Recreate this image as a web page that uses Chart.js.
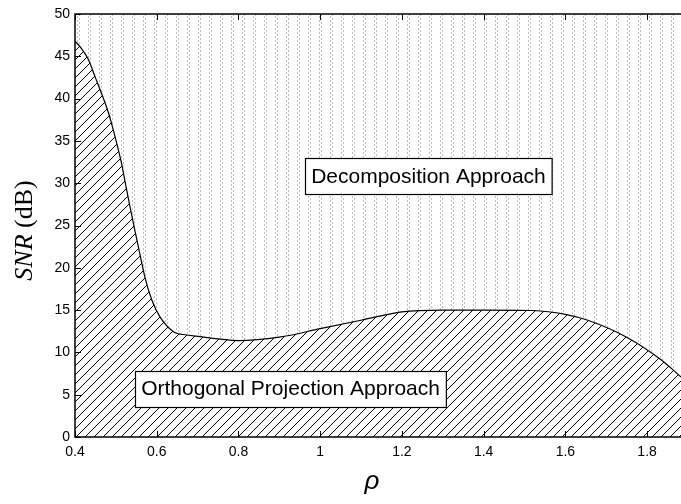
<!DOCTYPE html>
<html>
<head>
<meta charset="utf-8">
<script src="https://cdn.jsdelivr.net/npm/chart.js@4.4.0/dist/chart.umd.min.js"></script>
<style>
  html, body { margin: 0; padding: 0; background: #fff; }
  canvas { display: block; }
</style>
</head>
<body>
<canvas id="snr-chart" width="681" height="504"></canvas>
<script>
// boundary between the two regions
const rhoVals = [0.4, 0.416, 0.433, 0.449, 0.465, 0.482, 0.498, 0.514, 0.524, 0.535, 0.547, 0.559,
                 0.571, 0.588, 0.608, 0.641, 0.673, 0.706, 0.75, 0.8, 0.9, 1.0, 1.1, 1.2,
                 1.3, 1.4, 1.52, 1.6, 1.655, 1.75, 1.835, 1.883];
const snrVals = [46.8, 45.9, 44.6, 42.6, 40.6, 38.3, 35.5, 32.3, 29.8, 27.1, 24.3, 21.6,
                 18.9, 16.2, 14.2, 12.45, 12.06, 11.86, 11.6, 11.4, 11.8, 12.8, 13.8, 14.8,
                 15.0, 15.0, 14.95, 14.5, 13.8, 11.8, 9.1, 7.1];

const xTicks = [0.4, 0.6, 0.8, 1, 1.2, 1.4, 1.6, 1.8];
const yTicks = [0, 5, 10, 15, 20, 25, 30, 35, 40, 45, 50];

const noteText = ['Decomposition Approach', 'Orthogonal Projection Approach'];
const noteX = [1.265, 0.9275];
const noteY = [30.85, 5.73];

const canvas = document.getElementById('snr-chart');
const ctx = canvas.getContext('2d');

function makeHatch() {
    const s = 9;
    const c = document.createElement('canvas');
    c.width = s; c.height = s;
    const g = c.getContext('2d');
    g.strokeStyle = '#000';
    g.lineWidth = 1;
    g.beginPath();
    g.moveTo(0, s); g.lineTo(s, 0);
    g.moveTo(-1, 1); g.lineTo(1, -1);
    g.moveTo(s - 1, s + 1); g.lineTo(s + 1, s - 1);
    g.stroke();
    return ctx.createPattern(c, 'repeat');
}

function makeDots() {
    const c = document.createElement('canvas');
    c.width = 11; c.height = 4;
    const g = c.getContext('2d');
    g.fillStyle = '#bdbdbd';
    g.fillRect(0, 0, 1, 2);
    g.fillRect(2, 2, 1, 2);
    return ctx.createPattern(c, 'repeat');
}

const points = rhoVals.map((x, i) => ({ x: x, y: snrVals[i] }));

const framePlugin = {
    id: 'frameAndNotes',
    afterDraw: (chart) => {
        const c = chart.ctx;
        const area = chart.chartArea;
        const xs = chart.scales.x;
        const ys = chart.scales.y;

        c.save();
        // frame (right side is cut off in the original)
        c.strokeStyle = '#000';
        c.lineWidth = 1.5;
        c.beginPath();
        c.moveTo(area.right, area.top);
        c.lineTo(area.left, area.top);
        c.lineTo(area.left, area.bottom);
        c.lineTo(area.right, area.bottom);
        c.stroke();

        // inward ticks
        c.lineWidth = 1;
        c.beginPath();
        xTicks.forEach(v => {
            const px = Math.round(xs.getPixelForValue(v)) + 0.5;
            c.moveTo(px, area.top); c.lineTo(px, area.top + 6);
            c.moveTo(px, area.bottom); c.lineTo(px, area.bottom - 6);
        });
        yTicks.forEach(v => {
            const py = Math.round(ys.getPixelForValue(v)) + 0.5;
            c.moveTo(area.left, py); c.lineTo(area.left + 6, py);
        });
        c.stroke();

        // text boxes
        c.font = '21px "Liberation Sans", Arial, sans-serif';
        c.textAlign = 'center';
        c.textBaseline = 'middle';
        noteText.forEach((t, i) => {
            const cx = xs.getPixelForValue(noteX[i]);
            const cy = ys.getPixelForValue(noteY[i]);
            const w = c.measureText(t).width + 12;
            const h = 36;
            const bx = Math.round(cx - w / 2) + 0.5;
            const by = Math.round(cy - h / 2) + 0.5;
            c.fillStyle = '#fff';
            c.fillRect(bx, by, w, h);
            c.strokeStyle = '#000';
            c.lineWidth = 1.2;
            c.strokeRect(bx, by, w, h);
            c.fillStyle = '#000';
            c.fillText(t, cx, cy + 1);
        });

        // x title
        c.font = 'italic 26px "Liberation Sans", Arial, sans-serif';
        c.fillText('ρ', (area.left + area.right) / 2 - 6, 482);

        // y title: italic SNR + upright (dB)
        c.translate(25, (area.top + area.bottom) / 2 + 5);
        c.rotate(-Math.PI / 2);
        const f1 = 'italic 26px "Liberation Serif", "Times New Roman", serif';
        const f2 = '26px "Liberation Serif", "Times New Roman", serif';
        c.font = f1;
        const w1 = c.measureText('SNR').width;
        c.font = f2;
        const w2 = c.measureText(' (dB)').width;
        c.textAlign = 'left';
        c.font = f1;
        c.fillText('SNR', -(w1 + w2) / 2, 0);
        c.font = f2;
        c.fillText(' (dB)', -(w1 + w2) / 2 + w1, 0);
        c.restore();
    }
};

new Chart(ctx, {
    type: 'line',
    data: {
        datasets: [{
            data: points,
            borderColor: '#000',
            borderWidth: 1.2,
            backgroundColor: makeHatch(),
            fill: 'origin',
            pointRadius: 0,
            cubicInterpolationMode: 'monotone'
        }, {
            data: points,
            borderWidth: 0,
            borderColor: 'rgba(0,0,0,0)',
            backgroundColor: makeDots(),
            fill: 'end',
            pointRadius: 0,
            cubicInterpolationMode: 'monotone'
        }]
    },
    options: {
        responsive: false,
        animation: false,
        layout: { padding: { top: 14, right: 0, left: 0, bottom: 0 } },
        plugins: {
            legend: { display: false },
            tooltip: { enabled: false }
        },
        scales: {
            x: {
                type: 'linear',
                min: 0.4,
                max: 1.883,
                grid: { display: false, drawTicks: false },
                border: { display: false },
                afterBuildTicks: (scale) => { scale.ticks = xTicks.map(v => ({ value: v })); },
                afterFit: (scale) => { scale.height = 67; },
                ticks: {
                    padding: 7,
                    color: '#000',
                    font: { family: '"Liberation Sans", Arial, sans-serif', size: 14 },
                    maxRotation: 0,
                    callback: (v) => String(v)
                }
            },
            y: {
                min: 0,
                max: 50,
                grid: { display: false, drawTicks: false },
                border: { display: false },
                afterBuildTicks: (scale) => { scale.ticks = yTicks.map(v => ({ value: v })); },
                afterFit: (scale) => { scale.width = 75; },
                ticks: {
                    padding: 5,
                    color: '#000',
                    font: { family: '"Liberation Sans", Arial, sans-serif', size: 14 },
                    callback: (v) => String(v)
                }
            }
        }
    },
    plugins: [framePlugin]
});
</script>
</body>
</html>
